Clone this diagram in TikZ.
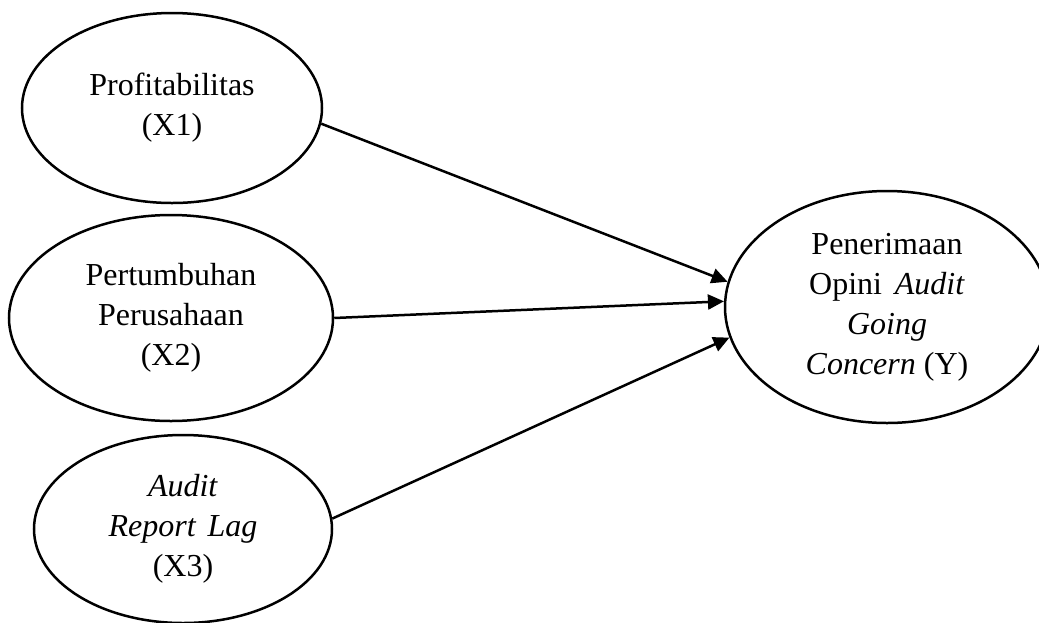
\documentclass[tikz,border=0pt]{standalone}
\usepackage{fontspec}
\setmainfont{Liberation Serif}
\usetikzlibrary{shapes.geometric,arrows.meta}
\tikzset{
  var/.style={ellipse, draw, line width=2.5pt, inner sep=0pt, align=center,
    font=\fontsize{32}{40}\selectfont},
  link/.style={line width=2.5pt, -{Triangle[length=16pt,width=15pt]}},
}
\begin{document}
\begin{tikzpicture}[x=1pt,y=-1pt]
\useasboundingbox (0,0) rectangle (1039,622);
\begin{scope}
\clip (0,0) rectangle (1039,622);
\node[var, minimum width=300pt, minimum height=190pt] (x1) at (172,108) {Profitabilitas\\(X1)};
\node[var, minimum width=324pt, minimum height=206pt] (x2) at (171,318) {Pertumbuhan\\Perusahaan\\(X2)};
\node[var, minimum width=298pt, minimum height=188pt] (x3) at (183,529) {\textit{Audit}\\\textit{Report}\hspace{0.35em}\textit{Lag}\\(X3)};
\node[var, minimum width=324pt, minimum height=232pt] (y) at (887,307) {Penerimaan\\Opini\hspace{0.4em}\textit{Audit}\\\textit{Going}\\\textit{Concern} (Y)};
\end{scope}
\draw[link] (x1.-6) -- (y.171);
\draw[link] (x2.0.3) -- (y.178);
\draw[link] (x3.4) -- (y.191.5);
\end{tikzpicture}
\end{document}
